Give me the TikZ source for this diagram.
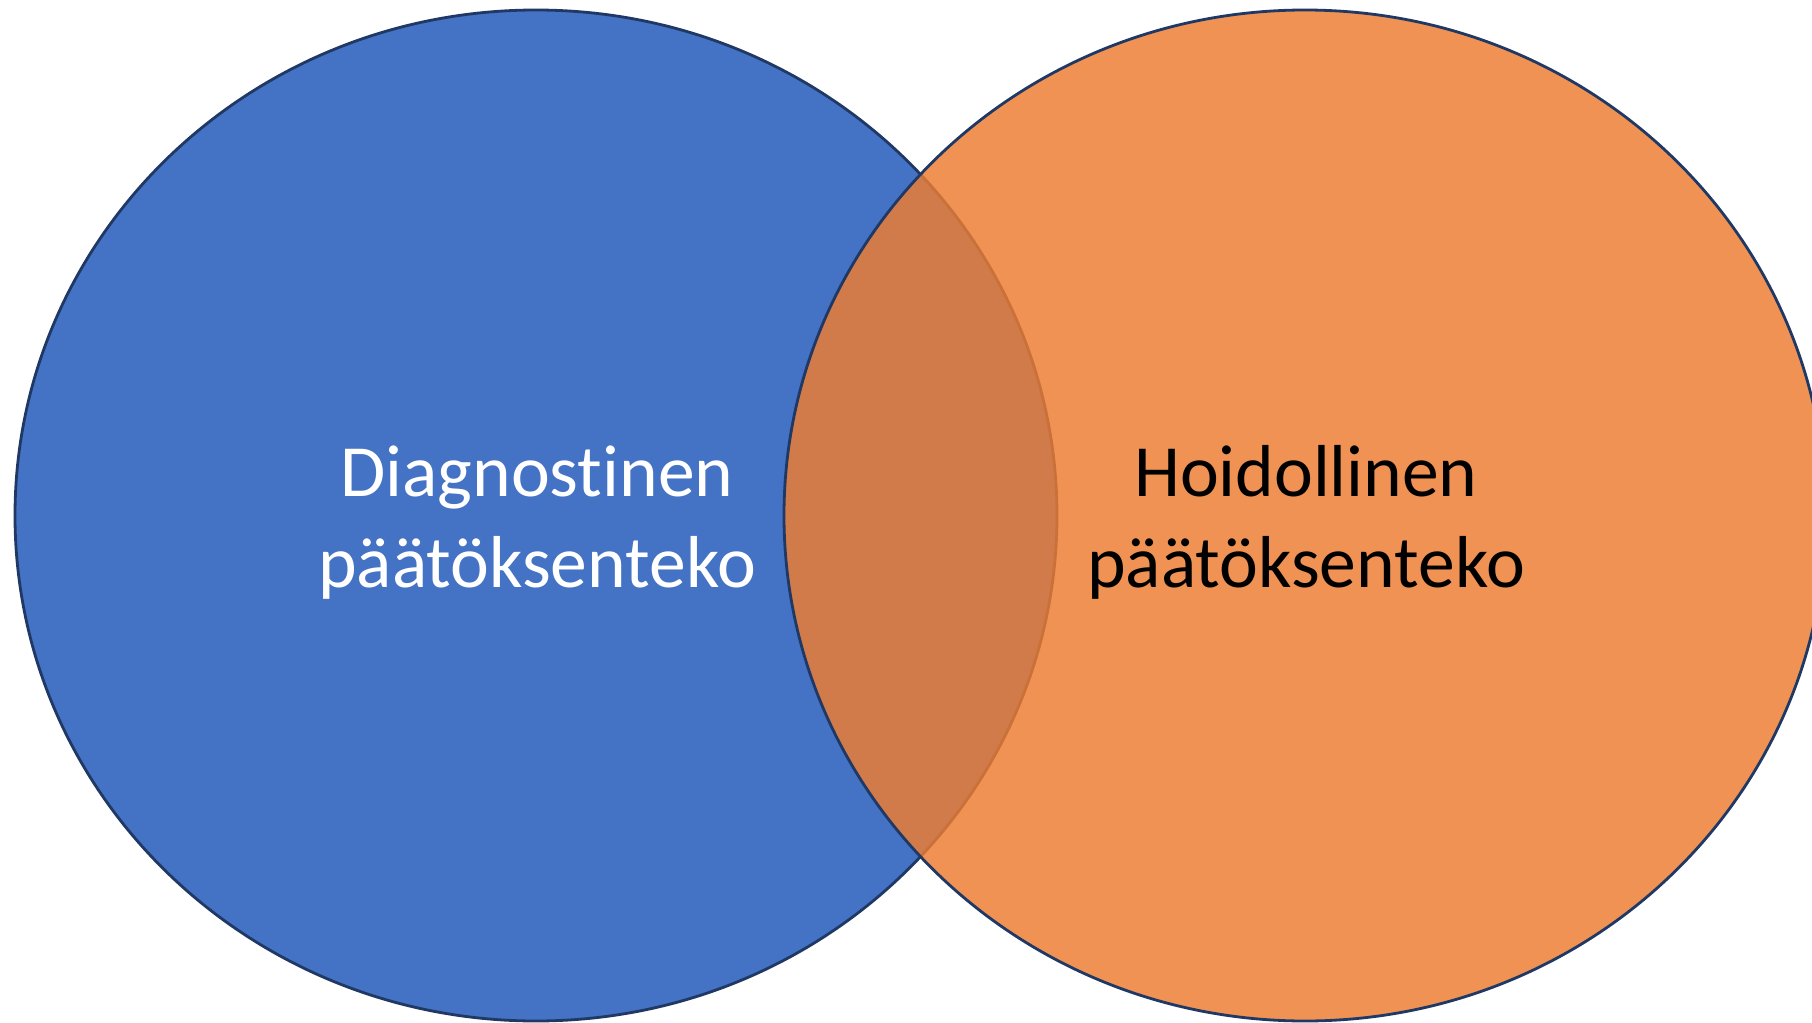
\documentclass[tikz,border=0pt]{standalone}
\usepackage{fontspec}
\setmainfont{Carlito}[Ligatures=NoCommon]
\definecolor{vblue}{HTML}{4472C4}
\definecolor{vorange}{HTML}{ED7D31}
\definecolor{vline}{HTML}{1F3864}
\begin{document}
\begin{tikzpicture}[x=0.5pt,y=-0.5pt,
  setshape/.style={line width=1.4pt, draw=vline},
  settext/.style={align=center, inner sep=0pt, font=\fontsize{36.8pt}{45.5pt}\selectfont}]
\useasboundingbox (0,0) rectangle (1812,1023);
\fill[white] (0,0) rectangle (1812,1023);
% left set
\filldraw[setshape, fill=vblue] (536,515.5) ellipse [x radius=260.5pt, y radius=252.75pt];
% right set (semi-transparent fill, opaque outline)
\fill[vorange, fill opacity=0.83] (1305,515.5) ellipse [x radius=260.5pt, y radius=252.75pt];
\draw[setshape] (1305,515.5) ellipse [x radius=260.5pt, y radius=252.75pt];
\node[settext, text=white, anchor=base] (diag) at (537,587) {Diagnostinen\\päätöksenteko};
\node[settext, text=black, anchor=base] (hoid) at (1306,587) {Hoidollinen\\päätöksenteko};
\end{tikzpicture}
\end{document}
